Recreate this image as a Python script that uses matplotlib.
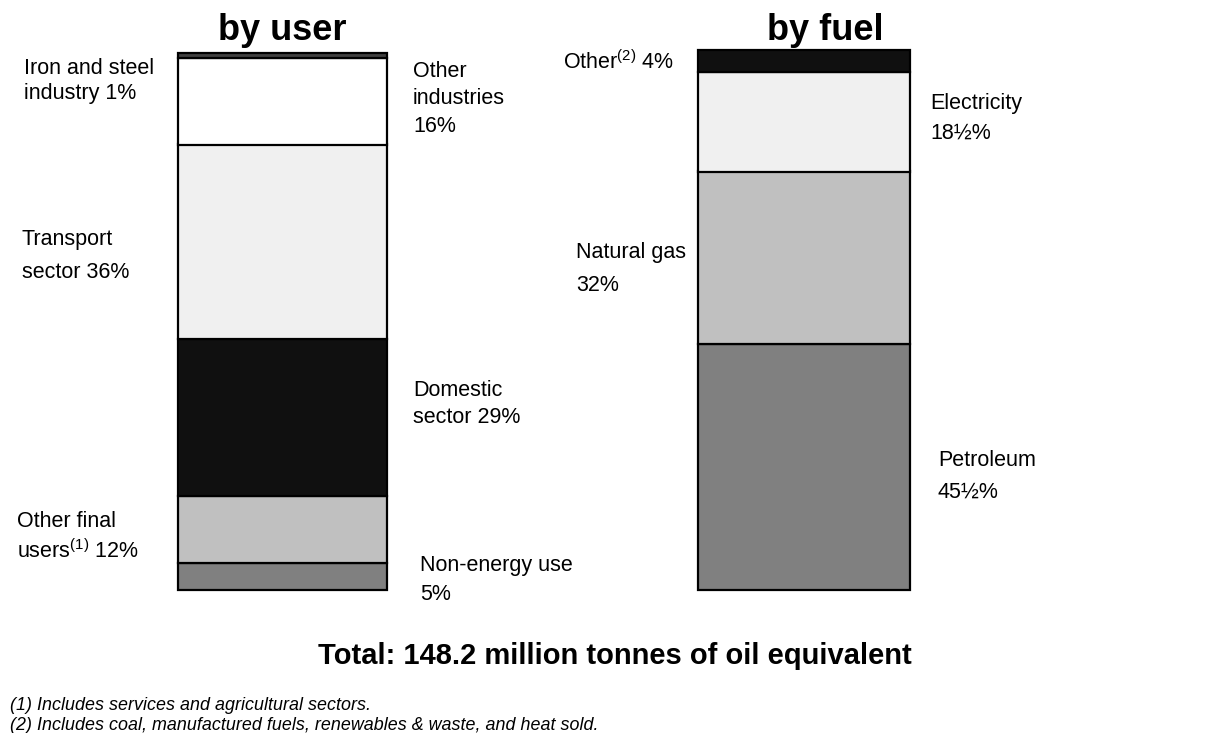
import matplotlib.pyplot as plt

plt.rcParams['font.family'] = ['Liberation Sans', 'DejaVu Sans']
plt.rcParams['mathtext.fontset'] = 'custom'
plt.rcParams['mathtext.rm'] = 'Liberation Sans'
plt.rcParams['mathtext.default'] = 'regular'

# data (percent shares, bottom to top)
user_labels = ['Non-energy use', 'Other final users', 'Domestic sector',
               'Transport sector', 'Other industries', 'Iron and steel industry']
user_values = [5, 12.5, 29, 36, 16, 1]
user_colors = ['#808080', '#c0c0c0', '#101010', '#f0f0f0', '#ffffff', '#404040']

fuel_labels = ['Petroleum', 'Natural gas', 'Electricity', 'Other']
fuel_values = [45.5, 32, 18.5, 4]
fuel_colors = ['#808080', '#c0c0c0', '#f0f0f0', '#101010']

W, H = 1225, 733
fig = plt.figure(figsize=(W / 100, H / 100), dpi=100)
fig.patch.set_facecolor('white')

# axes mapped so that 0..100 % spans the bar height in pixels
ax = fig.add_axes([0, (H - 590) / H, 1, 540 / H])
ax.set_xlim(0, W)
ax.set_ylim(0, 100)
ax.axis('off')


def stack(xc, width, values, colors):
    bottom = 0
    for v, c in zip(values, colors):
        ax.bar(xc, v, width=width, bottom=bottom, color=c,
               edgecolor='black', linewidth=1.6, clip_on=False)
        bottom += v


stack(282.5, 209, user_values, user_colors)
stack(804, 212, fuel_values, fuel_colors)


def label(x, y, s, gap=1.4, size=15.5):
    fig.text(x / W, 1 - y / H, s, fontsize=size, va='center', ha='left',
             linespacing=gap)


# titles
fig.text(282 / W, 1 - 30 / H, 'by user', fontsize=26, fontweight='bold', ha='center', va='center')
fig.text(825 / W, 1 - 30 / H, 'by fuel', fontsize=26, fontweight='bold', ha='center', va='center')

# by user labels
label(24, 81, 'Iron and steel\nindustry 1%', gap=1.3)
label(413, 99, 'Other\nindustries\n16%', gap=1.4)
label(22, 256, 'Transport\nsector 36%', gap=1.7)
label(413, 404, 'Domestic\nsector 29%', gap=1.4)
label(17, 537, 'Other final\nusers$^{(1)}$ 12%', gap=1.4)
label(420, 580, 'Non-energy use\n5%', gap=1.45)

# by fuel labels
label(563, 62, 'Other$^{(2)}$ 4%')
label(930, 118, 'Electricity\n18½%', gap=1.55)
label(576, 269, 'Natural gas\n32%', gap=1.7)
label(938, 476, 'Petroleum\n45½%', gap=1.65)

# total and footnotes
fig.text(615 / W, 1 - 656 / H, 'Total: 148.2 million tonnes of oil equivalent',
         fontsize=21, fontweight='bold', ha='center', va='center')
fig.text(10 / W, 1 - 706 / H, '(1) Includes services and agricultural sectors.',
         fontsize=12.9, style='italic', va='center')
fig.text(10 / W, 1 - 726 / H, '(2) Includes coal, manufactured fuels, renewables & waste, and heat sold.',
         fontsize=12.9, style='italic', va='center')

fig.savefig('out.png', dpi=100, facecolor='white')
